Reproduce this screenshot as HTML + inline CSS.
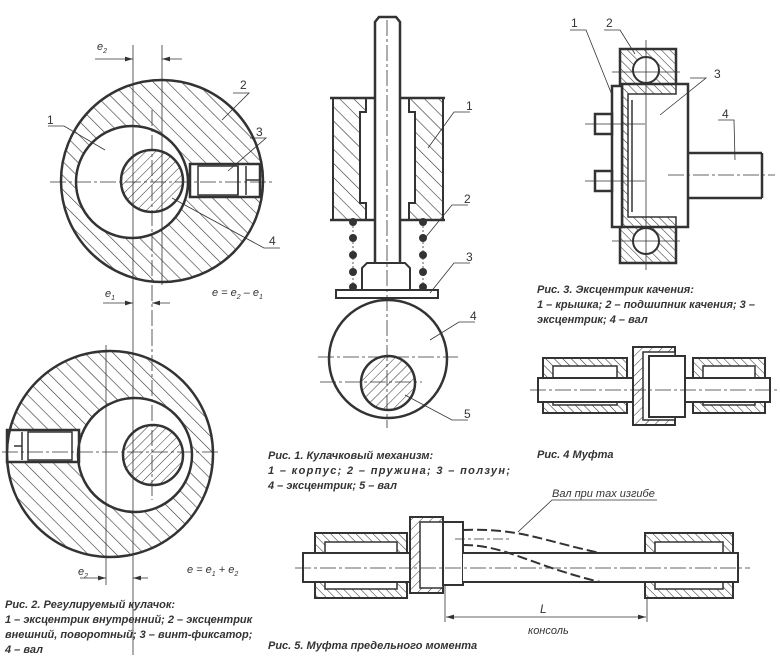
<!DOCTYPE html>
<html><head><meta charset="utf-8"><style>
html,body{margin:0;padding:0;background:#fff}
svg{display:block}
text{font-family:"Liberation Sans",sans-serif;font-style:italic;fill:#333}
.c{font-weight:bold;font-size:11px}
.n{font-size:12px;font-style:normal}
</style></head><body>
<svg width="780" height="657" viewBox="0 0 780 657" xmlns="http://www.w3.org/2000/svg">
<defs>
<pattern id="h" width="10" height="10" patternUnits="userSpaceOnUse" patternTransform="rotate(-45)"><line x1="0" y1="0" x2="0" y2="10" stroke="#333" stroke-width="1.2"/></pattern>
<pattern id="hs" width="7" height="7" patternUnits="userSpaceOnUse" patternTransform="rotate(45)"><line x1="0" y1="0" x2="0" y2="7" stroke="#333" stroke-width="1"/></pattern>
<pattern id="hb" width="6" height="6" patternUnits="userSpaceOnUse" patternTransform="rotate(-45)"><line x1="0" y1="0" x2="0" y2="6" stroke="#333" stroke-width="1.1"/></pattern>
<marker id="a" markerWidth="10" markerHeight="6" refX="10" refY="3" orient="auto"><path d="M0,0 L10,3 L0,6z" fill="#333"/></marker>
</defs>
<g stroke="#333" fill="none">
<!-- FIG 2 top -->
<path d="M61,181 a101,101 0 1,0 202,0 a101,101 0 1,0 -202,0 M76,182 a56,56 0 1,0 112,0 a56,56 0 1,0 -112,0 M190,164 h70 v33 h-70z" fill="url(#h)" fill-rule="evenodd" stroke-width="2.5"/>
<circle cx="152" cy="181" r="31" fill="url(#hs)" stroke-width="2.5"/>
<rect x="198" y="166" width="40" height="29" fill="#fff" stroke-width="1.5"/>
<path d="M238,166 v29 M246,166 v29 M246,180 h14" stroke-width="1.5"/>
<g stroke-width="0.8"><line x1="50" y1="182" x2="275" y2="182" stroke-dasharray="16,3,3,3"/>
<line x1="133" y1="45" x2="133" y2="655"/><line x1="162" y1="45" x2="162" y2="285"/><line x1="152" y1="110" x2="152" y2="330" stroke-dasharray="16,3,3,3"/>
<line x1="95" y1="59" x2="133" y2="59" marker-end="url(#a)"/><line x1="182" y1="59" x2="162" y2="59" marker-end="url(#a)"/>
<line x1="103" y1="303" x2="133" y2="303" marker-end="url(#a)"/><line x1="170" y1="303" x2="152" y2="303" marker-end="url(#a)"/>
<path d="M48,126 h16 L105,150"/><path d="M233,93 h16 L222,120"/><path d="M250,138 h16 L228,171"/><path d="M280,248 h-16 L172,198"/></g>
<!-- FIG 2 bottom -->
<path d="M7,454 a103,103 0 1,0 206,0 a103,103 0 1,0 -206,0 M78,455 a57,57 0 1,0 114,0 a57,57 0 1,0 -114,0 M7,430 h72 v32 h-72z" fill="url(#h)" fill-rule="evenodd" stroke-width="2.5"/>
<circle cx="153" cy="455" r="30" fill="url(#hs)" stroke-width="2.5"/>
<rect x="28" y="432" width="44" height="28" fill="#fff" stroke-width="1.5"/>
<path d="M22,432 v28 M14,446 h8" stroke-width="1.5"/>
<g stroke-width="0.8"><line x1="2" y1="452" x2="218" y2="452" stroke-dasharray="16,3,3,3"/>
<line x1="106" y1="345" x2="106" y2="585"/><line x1="152" y1="330" x2="152" y2="500" stroke-dasharray="16,3,3,3"/>
<line x1="80" y1="578" x2="106" y2="578" marker-end="url(#a)"/><line x1="148" y1="578" x2="133" y2="578" marker-end="url(#a)"/></g>
<!-- FIG 1 -->
<path d="M333,98 h33 v14 h-6 v91 h6 v17 h-33z M443,98 h-34 v14 h6 v91 h-6 v17 h34z" fill="url(#h)" stroke-width="2"/>
<path d="M330,98 h45 M400,98 h45 M330,220 h45 M400,220 h45" stroke-width="2.5"/>
<path d="M375,263 V22 l4,-5 h17 l4,5 V263" fill="#fff" stroke-width="2.5"/>
<path d="M362,290 v-22 l5,-5 h38 l5,5 v22" stroke-width="2"/>
<rect x="336" y="290" width="102" height="8" stroke-width="2"/>
<g fill="#333" stroke="none"><circle cx="353" cy="222" r="4"/><circle cx="353" cy="238" r="4"/><circle cx="353" cy="255" r="4"/><circle cx="353" cy="272" r="4"/><circle cx="353" cy="287" r="4"/><circle cx="423" cy="222" r="4"/><circle cx="423" cy="238" r="4"/><circle cx="423" cy="255" r="4"/><circle cx="423" cy="272" r="4"/><circle cx="423" cy="287" r="4"/></g>
<path d="M353,222 v65 M423,222 v65" stroke-width="0.8" stroke-dasharray="2,2"/>
<circle cx="388" cy="359" r="59" stroke-width="2.5"/>
<circle cx="388" cy="383" r="27" fill="url(#hs)" stroke-width="2.5"/>
<g stroke-width="0.8" stroke-dasharray="16,3,3,3"><line x1="387" y1="20" x2="387" y2="428"/><line x1="318" y1="357" x2="458" y2="357"/><line x1="320" y1="382" x2="422" y2="382"/></g>
<g stroke-width="0.8"><path d="M470,112 h-16 L428,148"/><path d="M468,205 h-16 L425,238"/><path d="M470,263 h-16 L430,293"/><path d="M475,322 h-16 L430,340"/><path d="M468,420 h-16 L405,395"/></g>
<!-- FIG 3 -->
<path d="M620,49 h56 v44 h-56z M620,219 h56 v44 h-56z" fill="url(#hb)" stroke-width="2.5"/>
<circle cx="646" cy="70" r="13" fill="#fff" stroke-width="2"/><circle cx="646" cy="241" r="13" fill="#fff" stroke-width="2"/>
<rect x="622" y="84" width="66" height="143" fill="#fff" stroke-width="2.5"/>
<path d="M622,84 h54 v10 h-48 v123 h48 v10 h-54z" fill="url(#hb)" stroke-width="1.5"/>
<path d="M632,100 v112" stroke-width="1.5"/>
<rect x="612" y="86" width="10" height="141" fill="#fff" stroke-width="2.5"/>
<rect x="595" y="114" width="17" height="20" stroke-width="2.5"/><rect x="595" y="171" width="17" height="20" stroke-width="2.5"/>
<path d="M688,153 h74 M688,198 h74 M762,153 v45" stroke-width="2.5"/>
<g stroke-width="0.8"><line x1="585" y1="124" x2="645" y2="124"/><line x1="585" y1="181" x2="645" y2="181"/><line x1="612" y1="72" x2="680" y2="72"/><line x1="612" y1="241" x2="680" y2="241"/><line x1="646" y1="40" x2="646" y2="270"/>
<line x1="668" y1="175" x2="775" y2="175" stroke-dasharray="16,3,3,3"/>
<path d="M570,30 h16 L612,95"/><path d="M604,30 h16 L635,54"/><path d="M690,78 h16 L660,115"/><path d="M718,120 h16 L735,160"/></g>
<!-- FIG 4 -->
<path d="M543,358 h84 v55 h-84z M693,358 h72 v55 h-72z" fill="url(#hb)" stroke-width="2"/>
<path d="M553,366 h64 v39 h-64z M703,366 h52 v39 h-52z" fill="#fff" stroke-width="1.5"/>
<rect x="633" y="347" width="42" height="78" fill="url(#hs)" stroke-width="2"/>
<rect x="643" y="352" width="32" height="68" fill="#fff" stroke-width="1.5"/>
<rect x="649" y="356" width="36" height="61" fill="#fff" stroke-width="2"/>
<rect x="538" y="378" width="95" height="24" fill="#fff" stroke-width="2"/><rect x="685" y="378" width="85" height="24" fill="#fff" stroke-width="2"/>
<line x1="530" y1="390" x2="778" y2="390" stroke-width="0.8" stroke-dasharray="16,3,3,3"/>
<!-- FIG 5 -->
<path d="M315,533 h92 v65 h-92z M645,533 h88 v65 h-88z" fill="url(#hb)" stroke-width="2"/>
<path d="M325,542 h72 v47 h-72z M655,542 h68 v47 h-68z" fill="#fff" stroke-width="1.5"/>
<rect x="410" y="517" width="33" height="76" fill="url(#hs)" stroke-width="2"/>
<rect x="420" y="522" width="23" height="66" fill="#fff" stroke-width="1.5"/>
<rect x="443" y="522" width="20" height="63" fill="#fff" stroke-width="2"/>
<rect x="303" y="553" width="107" height="29" fill="#fff" stroke-width="2"/>
<path d="M463,553 H738 V582 H463" fill="#fff" stroke-width="2"/>
<g stroke-width="2" stroke-dasharray="10,4"><path d="M463,530 C520,528 540,540 600,553"/><path d="M463,545 C505,545 530,565 600,582"/></g>
<g stroke-width="0.8"><line x1="295" y1="568" x2="750" y2="568" stroke-dasharray="16,3,3,3"/><line x1="455" y1="539" x2="510" y2="539" stroke-dasharray="10,3,3,3"/>
<line x1="445" y1="585" x2="445" y2="622"/><line x1="647" y1="598" x2="647" y2="622"/>
<line x1="500" y1="617" x2="446" y2="617" marker-end="url(#a)"/><line x1="600" y1="617" x2="646" y2="617" marker-end="url(#a)"/><line x1="500" y1="617" x2="600" y2="617"/>
<path d="M657,500 h-105 L518,532"/></g>
</g>
<text x="97" y="50" font-size="11">e<tspan font-size="7" dy="3">2</tspan></text>
<text x="105" y="297" font-size="11">e<tspan font-size="7" dy="3">1</tspan></text>
<text x="78" y="575" font-size="11">e<tspan font-size="7" dy="3">2</tspan></text>
<text x="212" y="296" font-size="11">e = e<tspan font-size="7" dy="3">2</tspan><tspan dy="-3"> – e</tspan><tspan font-size="7" dy="3">1</tspan></text>
<text x="187" y="573" font-size="11">e = e<tspan font-size="7" dy="3">1</tspan><tspan dy="-3"> + e</tspan><tspan font-size="7" dy="3">2</tspan></text>
<g class="n"><text x="47" y="124" class="n">1</text><text x="240" y="89" class="n">2</text><text x="256" y="136" class="n">3</text><text x="269" y="245" class="n">4</text>
<text x="466" y="110" class="n">1</text><text x="464" y="203" class="n">2</text><text x="466" y="261" class="n">3</text><text x="470" y="320" class="n">4</text><text x="464" y="418" class="n">5</text>
<text x="571" y="27" class="n">1</text><text x="606" y="27" class="n">2</text><text x="714" y="78" class="n">3</text><text x="722" y="118" class="n">4</text></g>
<text x="540" y="613" font-size="12">L</text><text x="528" y="634" font-size="11">консоль</text>
<text x="552" y="497" font-size="11">Вал при max изгибе</text>
<text class="c" x="537" y="293">Рис. 3. Эксцентрик качения:</text>
<text class="c" x="537" y="308">1 – крышка; 2 – подшипник качения; 3 –</text>
<text class="c" x="537" y="323">эксцентрик; 4 – вал</text>
<text class="c" x="537" y="458">Рис. 4 Муфта</text>
<text class="c" x="268" y="459">Рис. 1. Кулачковый механизм:</text>
<text class="c" x="268" y="474" textLength="242">1 – корпус; 2 – пружина; 3 – ползун;</text>
<text class="c" x="268" y="489">4 – эксцентрик; 5 – вал</text>
<text class="c" x="268" y="649">Рис. 5. Муфта предельного момента</text>
<text class="c" x="5" y="608">Рис. 2. Регулируемый кулачок:</text>
<text class="c" x="5" y="623">1 – эксцентрик внутренний; 2 – эксцентрик</text>
<text class="c" x="5" y="638">внешний, поворотный; 3 – винт-фиксатор;</text>
<text class="c" x="5" y="653">4 – вал</text>
</svg>
</body></html>
